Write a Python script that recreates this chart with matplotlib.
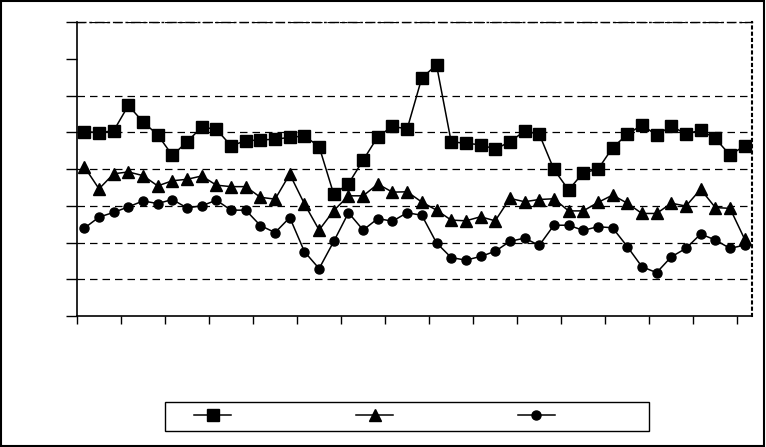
import numpy as np
import matplotlib
matplotlib.use("Agg")
import matplotlib.pyplot as plt
from matplotlib.patches import Rectangle

# values (46 periods, no labels shown)
squares = [5.02, 4.99, 5.04, 5.73, 5.28, 4.93, 4.37, 4.74, 5.14, 5.08, 4.63, 4.77,
           4.79, 4.81, 4.86, 4.90, 4.61, 3.31, 3.60, 4.24, 4.88, 5.16, 5.09, 6.48,
           6.83, 4.74, 4.70, 4.66, 4.54, 4.74, 5.03, 4.95, 3.99, 3.43, 3.90, 3.99,
           4.58, 4.94, 5.20, 4.92, 5.17, 4.95, 5.06, 4.83, 4.38, 4.63]
triangles = [4.06, 3.46, 3.87, 3.92, 3.82, 3.54, 3.68, 3.72, 3.81, 3.56, 3.52, 3.52,
             3.23, 3.18, 3.86, 3.05, 2.34, 2.87, 3.27, 3.27, 3.59, 3.37, 3.38, 3.10,
             2.88, 2.61, 2.59, 2.70, 2.59, 3.20, 3.11, 3.17, 3.19, 2.86, 2.86, 3.09,
             3.29, 3.07, 2.79, 2.79, 3.07, 2.99, 3.45, 2.95, 2.93, 2.09]
circles = [2.39, 2.69, 2.82, 2.97, 3.13, 3.06, 3.17, 2.94, 3.00, 3.15, 2.88, 2.88,
           2.46, 2.27, 2.68, 1.75, 1.29, 2.03, 2.81, 2.34, 2.65, 2.58, 2.81, 2.74,
           1.99, 1.59, 1.52, 1.62, 1.76, 2.03, 2.12, 1.92, 2.47, 2.47, 2.33, 2.43,
           2.40, 1.89, 1.34, 1.18, 1.61, 1.84, 2.23, 2.07, 1.84, 1.93]
grid_levels = [1, 2, 3, 4, 5, 6, 8]

n = len(squares)
x = np.arange(n) + 0.5

fig = plt.figure(figsize=(7.66, 4.47), dpi=100)
ax = fig.add_axes([77 / 766, 1 - 316 / 447, 675 / 766, 294 / 447])

ax.hlines(grid_levels, 0, n, colors='black', linestyles=(0, (6, 4)), lw=0.9, zorder=1)

l1, = ax.plot(x, squares, color='black', lw=1.1, marker='s', ms=8, zorder=3)
l2, = ax.plot(x, triangles, color='black', lw=1.1, marker='^', ms=8, zorder=3)
l3, = ax.plot(x, circles, color='black', lw=1.1, marker='o', ms=6.5, zorder=3)

ax.set_xlim(0, n)
ax.set_ylim(0, 8)
ax.set_xticks(np.arange(0, n, 3))
ax.set_yticks(range(9))
ax.set_xticklabels([])
ax.set_yticklabels([])
ax.tick_params(direction='out', length=6, width=1, color='black')
ax.tick_params(axis='y', length=8)

ax.spines['left'].set_linewidth(1.2)
ax.spines['bottom'].set_linewidth(1.2)
ax.spines['top'].set_linestyle((0, (6, 3, 1, 3)))
ax.spines['top'].set_linewidth(1.0)
ax.spines['right'].set_linestyle((0, (1, 2)))
ax.spines['right'].set_linewidth(1.5)

# legend box and entries (no label text in the original)
fig.patches.append(Rectangle((165 / 766, 1 - 430.7 / 447), 484 / 766, 29 / 447,
                             transform=fig.transFigure, fill=False,
                             edgecolor='black', lw=1))
fig.legend([l1, l2, l3], ['', '', ''], ncol=3, frameon=False, fontsize=10,
           handlelength=2.66, handletextpad=0, columnspacing=9.0,
           loc='center', bbox_to_anchor=(374.5 / 766, 1 - 416 / 447))

# outer border of the chart
fig.patches.append(Rectangle((0.001, 0.002), 0.997, 0.996, transform=fig.transFigure,
                             fill=False, edgecolor='black', lw=1.5))

fig.savefig('out.png', dpi=100)
